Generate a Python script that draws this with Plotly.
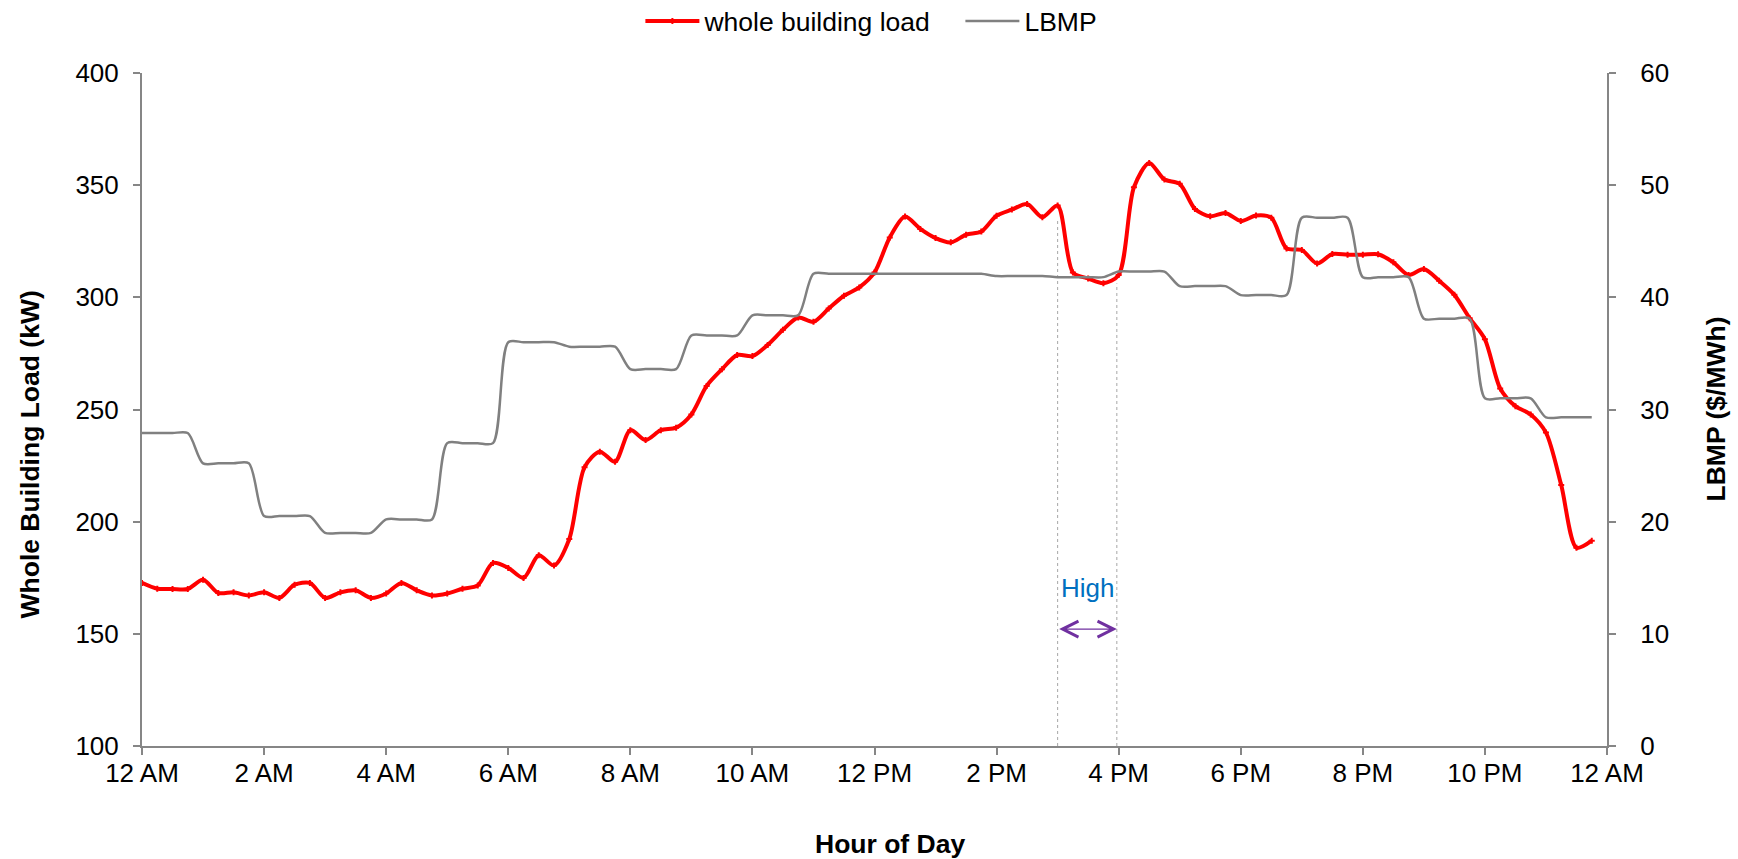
import plotly.graph_objects as go

# ---- data (15-minute intervals, hours from midnight) ----
TIME_H = [h + q / 4 for h in range(24) for q in range(4)]

LOAD_KW = [
    172.7, 170.1, 170.0, 170.0,   # 0
    174.1, 168.2, 168.5, 167.1,   # 1
    168.5, 166.0, 171.9, 172.7,   # 2
    166.0, 168.5, 169.4, 166.0,   # 3
    168.0, 172.7, 169.4, 167.1,   # 4
    168.0, 170.1, 171.6, 181.6,   # 5
    179.4, 174.9, 185.0, 180.5,   # 6
    192.3, 224.3, 231.2, 226.7,   # 7
    240.8, 236.4, 240.8, 241.9,   # 8
    247.8, 260.5, 267.9, 274.3,   # 9
    273.8, 278.8, 285.5, 291.0,   # 10
    289.1, 295.0, 300.7, 304.4,   # 11
    311.1, 326.7, 336.0, 330.5,   # 12
    326.4, 324.5, 327.9, 329.3,   # 13
    336.4, 339.1, 341.6, 335.7,   # 14
    340.9, 311.1, 308.4, 306.3,   # 15
    309.9, 349.1, 359.9, 352.5,   # 16
    350.6, 339.4, 336.1, 337.6,   # 17
    334.0, 336.5, 335.5, 321.8,   # 18
    321.1, 315.1, 319.3, 319.0,   # 19
    319.0, 319.2, 315.6, 309.9,   # 20
    312.6, 307.4, 301.1, 290.7,   # 21
    281.3, 259.4, 251.5, 247.8,   # 22
    239.7, 216.3, 188.4, 191.5,   # 23
]

LBMP = [
    27.9, 27.9, 27.9, 27.9,
    25.2, 25.2, 25.2, 25.2,
    20.5, 20.5, 20.5, 20.5,
    19.0, 19.0, 19.0, 19.0,
    20.2, 20.2, 20.2, 20.2,
    27.0, 27.0, 27.0, 27.0,
    36.0, 36.0, 36.0, 36.0,
    35.6, 35.6, 35.6, 35.6,
    33.6, 33.6, 33.6, 33.6,
    36.6, 36.6, 36.6, 36.6,
    38.4, 38.4, 38.4, 38.4,
    42.1, 42.1, 42.1, 42.1,
    42.1, 42.1, 42.1, 42.1,
    42.1, 42.1, 42.1, 42.1,
    41.9, 41.9, 41.9, 41.9,
    41.8, 41.8, 41.8, 41.8,
    42.3, 42.3, 42.3, 42.3,
    41.0, 41.0, 41.0, 41.0,
    40.2, 40.2, 40.2, 40.2,
    47.1, 47.1, 47.1, 47.1,
    41.8, 41.8, 41.8, 41.8,
    38.1, 38.1, 38.1, 38.1,
    31.0, 31.0, 31.0, 31.0,
    29.3, 29.3, 29.3, 29.3,
]

X_TICK_VALS = [0, 2, 4, 6, 8, 10, 12, 14, 16, 18, 20, 22, 24]
X_TICK_TEXT = ["12 AM", "2 AM", "4 AM", "6 AM", "8 AM", "10 AM", "12 PM",
               "2 PM", "4 PM", "6 PM", "8 PM", "10 PM", "12 AM"]
Y_TICKS = [100, 150, 200, 250, 300, 350, 400]
Y2_TICKS = [0, 10, 20, 30, 40, 50, 60]

HIGH_START = 15.0
HIGH_END = 15.97
HIGH_LINE_TOPS = [334.4, 306.2]
HIGH_ARROW_Y = 152.1
HIGH_LABEL_Y = 170.5

FONT = "Liberation Sans, Arial, sans-serif"
AXIS_COLOR = "#868686"

fig = go.Figure()

fig.add_trace(go.Scatter(
    x=TIME_H, y=LOAD_KW, name="whole building load",
    mode="lines+markers",
    line=dict(color="#FF0000", width=4, shape="spline", smoothing=0.8),
    marker=dict(symbol="cross", size=5, color="#FF0000"),
    yaxis="y",
))
fig.add_trace(go.Scatter(
    x=TIME_H, y=LBMP, name="LBMP",
    mode="lines",
    line=dict(color="#808080", width=2.5, shape="spline", smoothing=0.8),
    yaxis="y2",
))

# dotted boundaries of the "High" period
for xv, top in zip([HIGH_START, HIGH_END], HIGH_LINE_TOPS):
    fig.add_shape(type="line", xref="x", yref="y", x0=xv, x1=xv, y0=100, y1=top,
                  line=dict(color="#A6A6A6", width=1, dash="dot"), layer="below")

# double-headed arrow
fig.add_annotation(
    x=HIGH_END, y=HIGH_ARROW_Y, ax=HIGH_START, ay=HIGH_ARROW_Y,
    xref="x", yref="y", axref="x", ayref="y",
    text="", showarrow=True, arrowside="end+start",
    arrowhead=5, startarrowhead=5, arrowsize=2.4, startarrowsize=2.4,
    arrowwidth=1.3, arrowcolor="#7030A0", standoff=0, startstandoff=0,
)
fig.add_annotation(
    x=(HIGH_START + HIGH_END) / 2, y=HIGH_LABEL_Y, xref="x", yref="y",
    text="High", showarrow=False, font=dict(family=FONT, size=26, color="#0070C0"),
    xanchor="center", yanchor="middle",
)

# axis titles
TITLE_FONT = dict(family=FONT, size=26.5, color="black")
fig.add_annotation(
    x=0, y=0.5, xref="paper", yref="paper", xshift=-113, yshift=-45,
    text="<b>Whole Building Load (kW)</b>", textangle=-90, showarrow=False,
    font=TITLE_FONT, xanchor="center", yanchor="middle",
)
fig.add_annotation(
    x=1, y=0.5, xref="paper", yref="paper", xshift=108, yshift=0,
    text="<b>LBMP ($/MWh)</b>", textangle=-90, showarrow=False,
    font=TITLE_FONT, xanchor="center", yanchor="middle",
)
fig.add_annotation(
    x=0.5, y=0, xref="paper", yref="paper", xshift=15, yshift=-98,
    text="<b>Hour of Day</b>", showarrow=False,
    font=TITLE_FONT, xanchor="center", yanchor="middle",
)

axis_common = dict(
    showline=True, linecolor=AXIS_COLOR, linewidth=2,
    ticks="outside", ticklen=7, tickwidth=2, tickcolor=AXIS_COLOR,
    tickfont=dict(family=FONT, size=26, color="black"),
    showgrid=False, zeroline=False,
)

fig.update_layout(
    width=1738, height=859,
    margin=dict(l=142, r=131, t=73, b=113, autoexpand=False),
    paper_bgcolor="white", plot_bgcolor="white",
    font=dict(family=FONT, size=26, color="black"),
    xaxis=dict(range=[0, 24], tickvals=X_TICK_VALS, ticktext=X_TICK_TEXT,
               ticklabelstandoff=-4, **axis_common),
    yaxis=dict(range=[100, 400], tickvals=Y_TICKS,
               ticklabelstandoff=9, **axis_common),
    yaxis2=dict(range=[0, 60], tickvals=Y2_TICKS,
                overlaying="y", side="right", ticklabelstandoff=19, **axis_common),
    legend=dict(orientation="h", x=0.3402, y=1.077, xanchor="left", yanchor="middle",
                font=dict(family=FONT, size=26.5, color="black"), itemwidth=54,
                entrywidth=251, entrywidthmode="pixels",
                bgcolor="rgba(0,0,0,0)"),
    showlegend=True,
)

fig.write_html("out.html", config={"displayModeBar": False},
               post_script="document.body.style.margin='0';document.body.style.overflow='hidden';")
